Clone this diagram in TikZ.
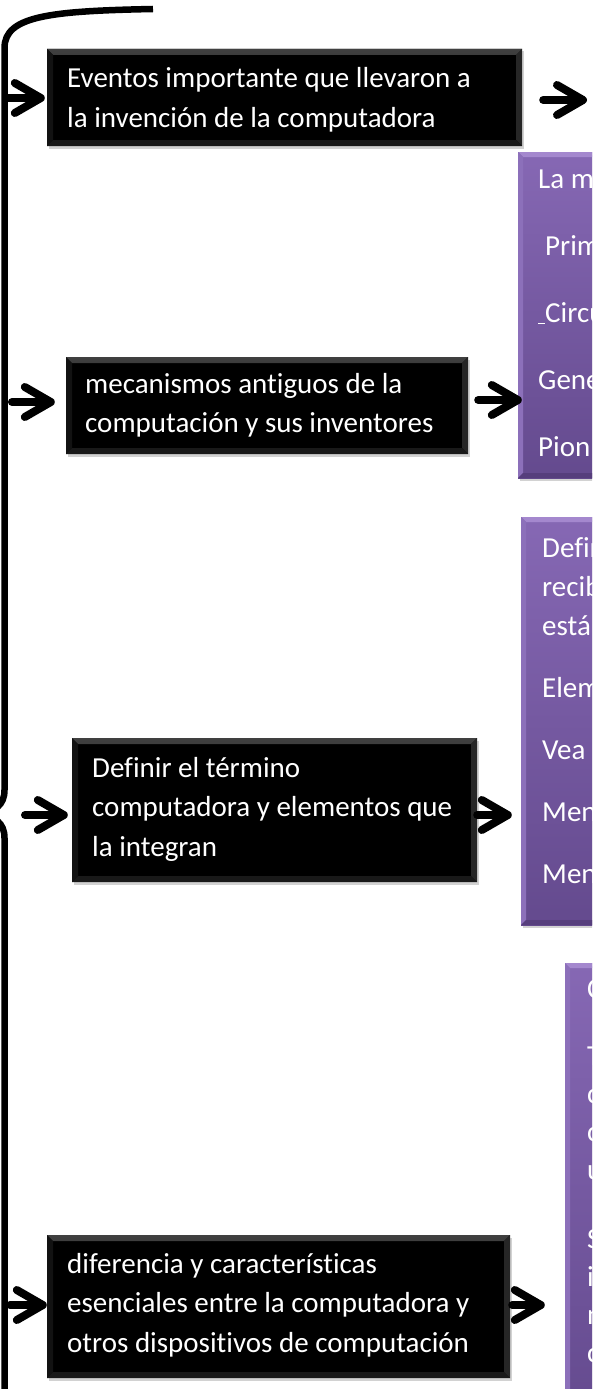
\documentclass[tikz,border=0pt]{standalone}
\usepackage{fontspec}
\setmainfont{Carlito}[Ligatures=NoCommon]
\usetikzlibrary{arrows.meta,shadows,calc}
\definecolor{purpTop}{RGB}{134,104,180}
\definecolor{purpBot}{RGB}{100,74,142}
\definecolor{purpEdgeT}{RGB}{164,136,206}
\definecolor{purpEdgeL}{RGB}{140,112,186}
\definecolor{purpEdgeR}{RGB}{98,72,138}
\definecolor{purpEdgeB}{RGB}{86,62,124}
\newcommand{\bevelpaint}[5]{%
\fill[#1] (path picture bounding box.north west) -- (path picture bounding box.north east) -- ([xshift=-#5,yshift=-#5]path picture bounding box.north east) -- ([xshift=#5,yshift=-#5]path picture bounding box.north west) -- cycle;
\fill[#2] (path picture bounding box.north west) -- (path picture bounding box.south west) -- ([xshift=#5,yshift=#5]path picture bounding box.south west) -- ([xshift=#5,yshift=-#5]path picture bounding box.north west) -- cycle;
\fill[#3] (path picture bounding box.north east) -- (path picture bounding box.south east) -- ([xshift=-#5,yshift=#5]path picture bounding box.south east) -- ([xshift=-#5,yshift=-#5]path picture bounding box.north east) -- cycle;
\fill[#4] (path picture bounding box.south west) -- (path picture bounding box.south east) -- ([xshift=-#5,yshift=#5]path picture bounding box.south east) -- ([xshift=#5,yshift=#5]path picture bounding box.south west) -- cycle;
}
\tikzset{
  bbox/.style={rectangle, inner sep=0pt, fill=black,
    drop shadow={shadow xshift=2pt, shadow yshift=-2.5pt, opacity=0.35},
    path picture={\bevelpaint{top color=gray!50!black, bottom color=black}{gray!14!black}{gray!30!black}{gray!20!black}{6pt}}},
  pbox/.style={rectangle, inner sep=0pt, top color=purpTop, bottom color=purpBot,
    drop shadow={shadow xshift=2pt, shadow yshift=-2.5pt, opacity=0.35},
    path picture={\bevelpaint{purpEdgeT}{purpEdgeL}{purpEdgeR}{purpEdgeB}{5pt}}},
  txt/.style={anchor=base west, inner sep=0pt, text=white,
    font={\fontsize{29pt}{39.5pt}\selectfont}},
  chevarrow/.style={line width=8pt, line cap=round, black,
    -{Straight Barb[length=26pt, width=30pt, line width=8pt, round]}},
}
\begin{document}
\begin{tikzpicture}[x=1pt,y=-1pt]
\clip (0,0) rectangle (592,1389);
\fill[white] (0,0) rectangle (592,1389);

% brace
\draw[line width=6.5pt, line cap=butt] (153,9) .. controls (50,11) and (4.5,16) .. (4.5,48)
  -- (4.5,790) .. controls (4.5,806) and (-6,810) .. (-16,814)
  .. controls (-6,818) and (4.5,822) .. (4.5,838) -- (4.5,1395);

% black boxes
\node[bbox, minimum width=475pt, minimum height=97pt] (box1) at (284.5,97.5) {};
\node[bbox, minimum width=402pt, minimum height=97pt] (box2) at (267,405.5) {};
\node[bbox, minimum width=405pt, minimum height=144pt] (box3) at (274.5,810) {};
\node[bbox, minimum width=463pt, minimum height=143pt] (box4) at (278.5,1306.5) {};

% purple boxes
\node[pbox, minimum width=102pt, minimum height=326pt] (purple1) at (569,315) {};
\node[pbox, minimum width=99pt, minimum height=408pt] (purple2) at (570.5,721) {};
\node[pbox, minimum width=55pt, minimum height=457pt] (purple3) at (592.5,1191.5) {};

% texts in black boxes
\node[txt] (t1) at (67,88) {\parbox[t]{460pt}{Eventos importante que llevaron a\\la invención de la computadora}};
\node[txt] (t2) at (85,393) {\parbox[t]{380pt}{mecanismos antiguos de la\\computación y sus inventores}};
\node[txt] (t3) at (92,777) {\parbox[t]{380pt}{Definir el término\\computadora y elementos que\\la integran}};
\node[txt] (t4) at (67,1273) {\parbox[t]{440pt}{diferencia y características\\esenciales entre la computadora y\\otros dispositivos de computación}};

% texts in purple boxes
\node[txt] (p1) at (538,188) {\parbox[t]{200pt}{\baselineskip=39pt La m\\[28pt]\hspace*{7pt}Prim\\[28pt]\underline{\hspace*{7pt}}Circu\\[28pt]Gene\\[28pt]Pion}};
\node[txt] (p2) at (542,557) {\parbox[t]{200pt}{\baselineskip=39pt Defin\\recib\\está\\[23pt]Elem\\[23pt]Vea\\[23pt]Men\\[23pt]Men}};
\node[txt] (p3) at (587,998) {\parbox[t]{200pt}{\baselineskip=38pt C\\[29pt]T\\c\\c\\u\\[31pt]S\\i\\n\\c}};

% connectors
\coordinate (y1) at (8,98);
\draw[chevarrow, shorten >=2pt] (y1) -- (y1 -| box1.west);
\coordinate (y2) at (587,100);
\draw[chevarrow, shorten <=21pt] (box1.east |- y2) -- (y2);
\coordinate (y3) at (12,402);
\draw[chevarrow, shorten >=11pt] (y3) -- (y3 -| box2.west);
\coordinate (y4) at (0,400);
\draw[chevarrow, shorten <=10pt, shorten >=-4pt] (box2.east |- y4) -- (purple1.west |- y4);
\coordinate (y5) at (25,815);
\draw[chevarrow, shorten >=4pt] (y5) -- (y5 -| box3.west);
\draw[chevarrow, shorten >=9pt] (box3.east |- y5) -- (purple2.west |- y5);
\coordinate (y7) at (10,1305);
\draw[chevarrow] (y7) -- (y7 -| box4.west);
\draw[chevarrow, shorten <=2pt, shorten >=20pt] (box4.east |- y7) -- (purple3.west |- y7);
\end{tikzpicture}
\end{document}
